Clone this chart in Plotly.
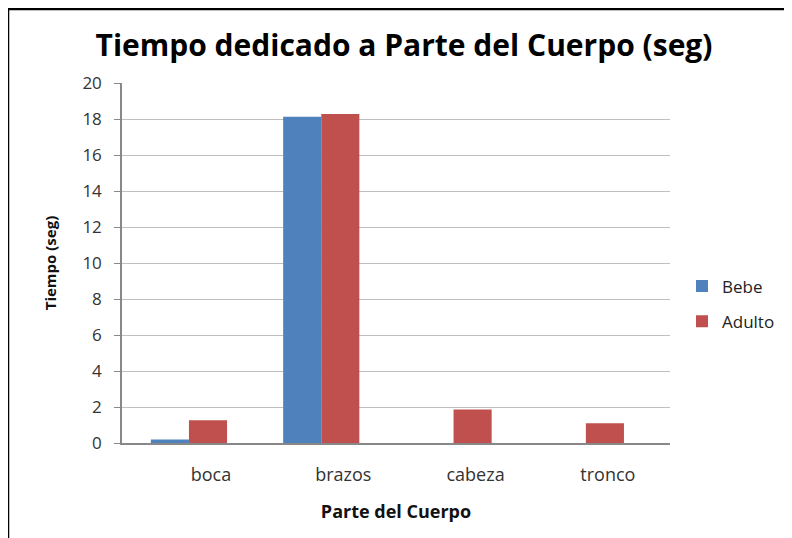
import plotly.graph_objects as go

categories = ["boca", "brazos", "cabeza", "tronco"]
bebe = [0.2, 18.13, 0, 0]
adulto = [1.27, 18.28, 1.86, 1.1]
y_ticks = [0, 2, 4, 6, 8, 10, 12, 14, 16, 18, 20]

# page has an 8px body margin; work in page pixels
OFF = 8
PW, PH = 792, 538
W, H = PW - OFF, PH - OFF
L, R, T, B = 122, 670, 83, 443  # plot area in page pixels

def px(x):
    return (x - L) / (R - L)

def py(y):
    return (B - y) / (B - T)

font = "Open Sans, Noto Sans, sans-serif"

fig = go.Figure()
fig.add_trace(go.Bar(name="Bebe", x=list(range(len(categories))), y=bebe,
                     legendgroup="bebe",
                     marker=dict(color="#4F81BD", line=dict(width=0))))
fig.add_trace(go.Bar(name="Adulto", x=list(range(len(categories))), y=adulto,
                     legendgroup="adulto",
                     marker=dict(color="#C0504D", line=dict(width=0))))

fig.update_layout(
    width=W, height=H,
    margin=dict(l=L - OFF, r=PW - R, t=T - OFF, b=PH - B, pad=0),
    paper_bgcolor="white", plot_bgcolor="white",
    barmode="group", bargap=0.424, bargroupgap=0,
    font=dict(family=font, color="#222222"),
    title=dict(text="<b>Tiempo dedicado a Parte del Cuerpo (seg)</b>",
               x=(404 - OFF) / W, xanchor="center", y=1 - (45 - OFF) / H, yanchor="middle",
               font=dict(size=30, color="black", family=font)),
    legend=dict(xref="container", yref="container",
                x=(682 - OFF) / W, xanchor="left",
                y=1 - (304 - OFF) / H, yanchor="middle",
                font=dict(size=17, color="#222222"), itemwidth=30,
                tracegroupgap=10, bgcolor="rgba(0,0,0,0)"),
    showlegend=True,
)
fig.update_xaxes(
    tickmode="array", tickvals=list(range(len(categories))), ticktext=categories,
    range=[-0.506, 3.636], showgrid=False, zeroline=False,
    showline=True, linecolor="#888888", linewidth=1.5,
    ticks="", ticklabelshift=22, ticklabelstandoff=15,
    tickfont=dict(size=18, color="#333333"),
    title=dict(text="<b>Parte del Cuerpo</b>", font=dict(size=18, color="#111111"),
               standoff=20),
)
fig.update_yaxes(
    range=[0, 20], tickmode="array", tickvals=y_ticks,
    showgrid=True, gridcolor="#BFBFBF", gridwidth=1, zeroline=False,
    showline=True, linecolor="#888888", linewidth=1.5,
    ticks="outside", ticklen=6, tickcolor="#888888", ticklabelstandoff=9,
    tickfont=dict(size=17, color="#333333"),
    title=dict(text="<b>Tiempo (seg)</b>", font=dict(size=15, color="#111111"),
               standoff=22),
)
fig.add_shape(type="line", xref="paper", yref="paper",
              x0=px(7), x1=px(800), y0=py(9), y1=py(9),
              line=dict(color="black", width=2.5))
fig.add_shape(type="line", xref="paper", yref="paper",
              x0=px(8), x1=px(8), y0=py(8), y1=py(545),
              line=dict(color="black", width=2.5))

fig.write_html("out.html")
